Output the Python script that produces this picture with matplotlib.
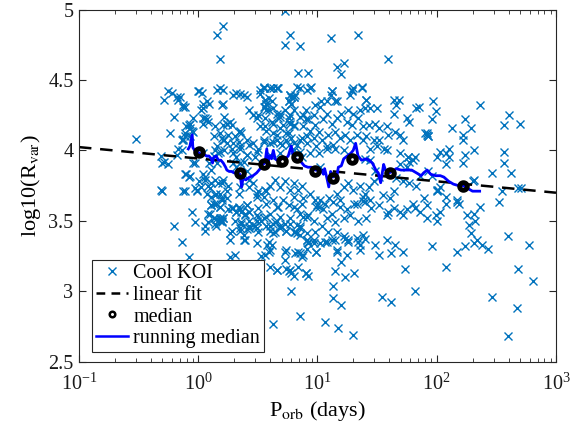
import numpy as np
import matplotlib
matplotlib.use("Agg")
import matplotlib.pyplot as plt
from matplotlib.lines import Line2D

# ---------------- data ----------------
# scatter: log10(P_orb [days]) and log10(R_var)
koi_logP = [
    -0.52, -0.29, -0.25, -0.24, -0.20, -0.18, -0.17, -0.13, -0.11, -0.31, -0.29, -0.18, -0.31, -0.11, -0.11,
    -0.13, -0.08, -0.07, -0.20, -0.14, -0.08, -0.05, -0.03, -0.10, -0.08, -0.22, -0.15, -0.13, -0.13, -0.11,
    -0.10, -0.07, -0.04, -0.05, -0.04, -0.17, -0.14, -0.30, -0.25, -0.04, -0.30, -0.13, -0.01, -0.03, -0.07,
    -0.14, -0.11, -0.07, -0.01, -0.03,
    0.21, 0.16, 0.18, 0.00, 0.03, 0.02, 0.04, 0.07, 0.09, 0.04, 0.07, 0.14, 0.16, 0.18, 0.21, 0.20, 0.21,
    0.24, 0.16, 0.18, 0.22, 0.13, 0.16, 0.04, 0.09, 0.11, 0.04, 0.06, 0.14, 0.17, 0.02, 0.07, 0.11, 0.15,
    0.20, 0.24, 0.15, 0.18, 0.25, 0.01, 0.04, 0.06, 0.08, 0.04, 0.21, 0.22, 0.24, 0.27, 0.28, 0.20, 0.22,
    0.24, 0.25, 0.29, 0.34, 0.35, 0.17, 0.14, 0.13, 0.18, 0.21, 0.28, 0.35, 0.31, 0.01, 0.06, 0.08, 0.11,
    0.10, 0.14, 0.18, 0.20, 0.24, 0.20, 0.21, 0.25, 0.34, 0.35, 0.10, 0.11, 0.13, 0.18, 0.21, 0.20, 0.18,
    0.28, 0.06, 0.27, 0.13, 0.18, 0.27, 0.06, 0.08, 0.13, 0.15, 0.20, 0.14, 0.15, 0.18, 0.21, 0.11, 0.08,
    0.28, 0.32, 0.35, 0.38, 0.36, 0.39, 0.29, 0.32, 0.35, 0.38, 0.41, 0.43, 0.46, 0.49, 0.50, 0.41, 0.43,
    0.46, 0.49, 0.50, 0.34, 0.35, 0.36, 0.41, 0.43, 0.46, 0.49, 0.50, 0.48, 0.41, 0.29, 0.32, 0.29, 0.34,
    0.36, 0.41, 0.43, 0.48, 0.49, 0.49, 0.43, 0.28, 0.32, 0.31, 0.36, 0.41, 0.43, 0.50, 0.48, 0.55, 0.57,
    0.50, 0.43, 0.38, 0.29, 0.32, 0.35, 0.41, 0.43, 0.46, 0.49, 0.50, 0.43, 0.49, 0.38, 0.39, 0.27, 0.31,
    0.35, 0.39, 0.35, 0.35, 0.49, 0.41,
    0.52, 0.55, 0.63, 0.67, 0.59, 0.62, 0.56, 0.57, 0.66, 0.69, 0.52, 0.56, 0.63, 0.76, 0.77, 0.80, 0.78,
    0.81, 0.83, 0.85, 0.91, 0.88, 0.90, 0.76, 0.80, 0.85, 0.55, 0.60, 0.66, 0.56, 0.57, 0.77, 0.80, 0.76,
    0.78, 0.55, 0.59, 0.63, 0.69, 0.73, 0.77, 0.80, 0.56, 0.62, 0.67, 0.71, 0.76, 0.80, 0.57, 0.63, 0.69,
    0.74, 0.78, 0.55, 0.60, 0.66, 0.70, 0.76, 0.80, 0.85, 0.90, 0.92, 0.97, 0.88, 0.94, 0.98, 0.87, 0.91,
    0.97, 0.85, 0.94, 0.69, 0.60, 0.66, 0.69, 0.74, 0.83, 0.91, 0.99, 0.55, 0.63,
    0.56, 0.60, 0.64, 0.69, 0.73, 0.77, 0.80, 0.84, 0.87, 0.57, 0.63, 0.67, 0.71, 0.76, 0.80, 0.83, 0.88,
    0.94, 0.98, 0.55, 0.60, 0.64, 0.69, 0.73, 0.77, 0.83, 0.88, 0.92, 0.97, 0.60, 0.64, 0.69, 0.74, 0.80,
    0.85, 0.91, 0.98, 0.59, 0.62, 0.92, 0.97, 0.74, 0.88, 0.99, 0.56, 0.59, 0.73, 0.73, 0.81, 0.84, 0.87,
    0.66, 0.74, 0.76, 0.80, 0.90, 0.78, 0.85, 0.63, 0.58, 0.60, 0.53, 0.60, 0.66, 0.77, 0.78, 0.84, 0.85,
    0.91, 0.53, 0.57, 0.60, 0.63, 0.66, 0.69, 0.77, 0.81, 0.85, 0.91, 0.92, 0.80, 0.85, 0.91, 0.87, 0.85,
    0.91, 0.97, 0.63, 0.57, 0.66, 0.74, 0.83,
    0.73, 0.77, 0.73, 0.85, 0.84, 0.92, 0.55, 0.60, 0.66, 0.52, 0.56, 0.57, 0.77, 0.80, 0.76, 0.78, 0.87,
    1.11, 1.34, 1.59, 1.16, 1.22, 1.20, 1.12, 1.11, 1.16, 1.29, 1.37, 1.27, 1.41, 0.98, 1.03, 1.08, 1.02,
    1.26, 1.30, 1.36, 1.40, 1.01, 1.05, 1.08, 1.12, 1.16, 1.20, 1.25, 1.29, 1.34, 1.38, 1.04, 1.09, 1.15,
    1.19, 1.23, 1.27, 1.33, 1.38, 1.08, 1.13, 1.22, 1.01, 1.08, 1.15, 0.94, 0.95, 1.12, 1.15, 1.29, 1.30,
    1.37, 1.41, 1.44, 1.50, 1.64, 1.68, 1.66, 1.64, 1.75, 1.83, 1.85, 1.97, 1.99, 1.96, 1.90, 1.93, 1.02,
    1.02, 1.06, 1.10, 1.16, 1.22, 1.26, 1.30, 1.36, 1.40, 0.99, 1.05, 1.12, 1.19, 1.25, 1.31, 1.38, 1.01,
    1.08, 1.15, 1.22, 1.27, 1.34, 1.41, 1.04, 1.09, 1.12, 1.16, 1.22, 1.26, 1.33, 1.38, 1.02, 1.08, 0.99,
    1.16, 1.25, 1.36, 1.00, 1.13, 1.19, 1.33, 1.40,
    1.06, 1.15, 1.16, 1.23, 1.26, 1.34, 1.36, 1.40, 1.48, 1.52, 1.58, 1.62, 1.65, 1.72, 0.90, 0.92, 1.15,
    1.13, 1.13, 1.20, 1.23, 1.31, 1.06, 1.17, 1.20, 1.30, 1.54, 1.62, 1.73, 1.82, 1.96, 2.08, 2.17, 2.24,
    2.31, 2.38, 2.43, 2.46, 2.60, 2.68, 2.67, 2.77, 2.81, 2.60,
    1.59, 1.69, 1.75, 1.82, 1.92, 1.99, 2.03, 2.00, 2.08, 2.17, 2.19, 2.25, 2.27, 2.29, 2.31, 2.32, 2.34,
    2.36, 2.52,
    1.92, 2.13, 2.08, 2.10, 2.08, 2.17, 1.77, 1.69, 1.72, 1.59, 1.52, 1.56, 1.77, 1.75, 1.86, 1.69, 1.93,
    1.96, 2.00, 2.03, 1.89, 1.80, 1.92, 1.86, 1.72, 1.64, 1.61, 1.64, 1.55, 1.52, 1.44, 1.38, 1.45, 1.58,
    1.43, 1.48, 1.52, 1.58, 1.65, 1.41, 1.47, 1.50, 1.44, 1.58, 1.69, 1.76, 1.40, 1.44, 1.48, 1.52, 1.47,
    1.43, 1.66, 1.72, 1.77, 1.83,
    2.08, 2.24, 2.22, 2.31, 2.31, 2.30, 2.46, 2.56, 2.56, 2.62, 2.55, 2.68, 2.71, 2.24, 2.29, 2.22, 2.22,
    2.36, 2.61, 2.56, 2.70, 1.92, 1.93, 2.00, 2.03, 2.01, 2.00, 1.76, 1.82, 1.80, 2.10,
]
koi_logR = [
    4.08, 4.36, 4.42, 4.12, 4.24, 4.38, 4.36, 4.32, 4.31, 3.96, 3.92, 3.97, 3.72, 3.71, 3.83,
    4.07, 4.18, 4.16, 3.46, 3.35, 3.24, 3.56, 3.49, 3.83, 3.81, 4.41, 4.38, 4.31, 4.08, 4.10,
    4.17, 4.19, 4.23, 4.14, 4.13, 4.01, 4.00, 3.91, 3.90, 3.91, 3.71, 3.71, 3.72, 3.73, 3.82,
    4.07, 4.12, 4.10, 3.71, 3.91,
    4.88, 4.82, 4.65, 4.42, 4.41, 4.29, 4.30, 4.35, 4.33, 4.23, 4.22, 4.17, 4.43, 4.44, 4.43, 4.32, 4.18,
    4.19, 4.03, 3.99, 4.00, 3.96, 3.91, 3.98, 3.91, 3.86, 3.83, 3.79, 3.79, 3.77, 3.74, 3.69, 3.67, 3.69,
    3.65, 3.66, 3.62, 3.60, 3.58, 4.42, 4.33, 4.23, 4.20, 4.19, 4.33, 4.24, 4.19, 4.20, 4.18, 4.09, 4.07,
    4.05, 4.11, 4.05, 4.06, 4.01, 3.98, 4.00, 4.10, 4.12, 4.07, 4.01, 4.03, 4.10, 3.78, 3.81, 3.75, 3.77,
    3.73, 3.68, 3.69, 3.66, 3.71, 3.77, 3.79, 3.75, 3.69, 3.74, 3.55, 3.61, 3.62, 3.60, 3.52, 3.49, 3.50,
    3.43, 3.46, 3.24, 3.52, 3.52, 3.41, 3.43, 3.49, 3.52, 3.46, 3.50, 3.48, 3.51, 3.51, 3.52, 3.61, 3.55,
    3.59, 3.56, 3.58, 3.36, 3.49, 3.54, 4.39, 4.41, 4.40, 4.39, 4.38, 4.29, 4.25, 4.23, 4.25, 4.07, 4.04,
    4.05, 3.99, 4.01, 4.13, 4.14, 4.12, 3.97, 3.45, 3.47, 3.54, 3.59, 3.95, 3.97, 3.98, 3.95, 3.59, 3.60,
    3.56, 3.61, 3.56, 3.46, 3.69, 3.67, 3.50, 3.59, 3.56, 3.50, 3.48, 3.61, 3.56, 3.53, 3.46, 3.67, 3.71,
    3.71, 3.74, 3.92, 3.91, 3.88, 3.91, 3.85, 3.79, 3.77, 3.45, 3.42, 3.46, 3.34, 3.40, 3.36, 3.36, 3.26,
    3.58, 3.55, 3.43, 3.45, 3.50, 3.44,
    4.43, 4.45, 4.44, 4.44, 4.37, 4.35, 4.31, 4.29, 4.26, 4.24, 4.17, 4.17, 4.19, 4.23, 4.19, 4.18, 4.38,
    4.39, 4.45, 4.44, 4.43, 4.25, 4.22, 4.12, 4.05, 4.07, 4.44, 4.44, 4.44, 4.36, 4.33, 4.39, 4.38, 4.35,
    4.33, 4.31, 4.29, 4.30, 4.26, 4.29, 4.25, 4.29, 4.23, 4.20, 4.23, 4.18, 4.20, 4.17, 4.14, 4.12, 4.16,
    4.12, 4.09, 4.07, 4.05, 4.07, 4.04, 4.04, 4.00, 4.24, 4.29, 4.22, 4.25, 4.17, 4.14, 4.18, 4.09, 4.05,
    4.09, 3.99, 3.98, 3.98, 3.97, 4.11, 4.05, 4.07, 4.04, 4.10, 4.03, 4.06, 4.06,
    3.72, 3.75, 3.79, 3.74, 3.78, 3.72, 3.77, 3.72, 3.75, 3.62, 3.65, 3.60, 3.65, 3.61, 3.67, 3.58, 3.66,
    3.69, 3.65, 3.52, 3.55, 3.49, 3.53, 3.48, 3.52, 3.47, 3.53, 3.54, 3.50, 3.43, 3.42, 3.46, 3.43, 3.42,
    3.45, 3.41, 3.42, 3.35, 3.33, 3.35, 3.36, 3.29, 3.26, 3.28, 3.26, 3.28, 3.28, 3.22, 3.27, 3.28, 3.24,
    3.15, 3.16, 3.14, 3.11, 3.13, 3.00, 2.82, 2.77, 3.33, 3.29, 3.25, 3.17, 3.15, 3.15, 3.13, 3.17, 3.27,
    3.30, 3.50, 3.53, 3.46, 3.48, 3.50, 3.45, 3.48, 3.42, 3.46, 3.36, 3.34, 3.60, 3.55, 3.53, 3.62, 3.40,
    3.36, 3.34, 3.41, 3.46, 3.60, 3.43, 3.41,
    4.99, 4.82, 4.75, 4.74, 4.55, 4.55, 4.44, 4.44, 4.44, 4.40, 4.36, 4.33, 4.39, 4.38, 4.35, 4.33, 3.95,
    4.80, 4.82, 4.65, 4.59, 4.62, 4.54, 4.42, 4.39, 4.35, 4.42, 4.44, 4.39, 4.36, 4.32, 4.35, 4.35, 4.31,
    4.29, 4.26, 4.29, 4.30, 4.13, 4.22, 4.26, 4.19, 4.23, 4.26, 4.20, 4.18, 4.23, 4.17, 4.07, 4.11, 4.13,
    4.09, 4.11, 4.07, 4.11, 4.07, 4.01, 4.04, 4.00, 3.98, 4.03, 4.01, 4.44, 4.45, 4.42, 4.35, 4.43, 4.44,
    4.45, 4.36, 4.30, 4.30, 4.36, 4.36, 4.32, 4.26, 4.23, 4.30, 4.31, 4.35, 4.28, 4.22, 4.12, 4.10, 3.88,
    3.65, 3.62, 3.66, 3.69, 3.74, 3.77, 3.72, 3.75, 3.69, 3.60, 3.58, 3.55, 3.60, 3.58, 3.62, 3.64, 3.60,
    3.52, 3.49, 3.52, 3.54, 3.50, 3.52, 3.46, 3.42, 3.36, 3.42, 3.39, 3.36, 3.38, 3.40, 3.34, 3.35, 3.28,
    3.29, 3.26, 3.29, 3.61, 3.63, 3.65, 3.62, 3.63,
    3.35, 3.36, 3.28, 3.37, 3.35, 3.35, 3.33, 3.37, 3.33, 3.26, 3.36, 3.27, 3.33, 3.28, 3.13, 3.11, 3.14,
    3.04, 2.95, 3.21, 3.10, 3.13, 2.78, 2.74, 2.90, 2.69, 2.96, 2.92, 3.16, 3.00, 3.32, 3.17, 3.28, 3.32,
    3.34, 3.33, 3.30, 2.96, 3.39, 3.16, 2.88, 3.33, 3.07, 2.68,
    3.56, 3.56, 3.58, 3.59, 3.52, 3.54, 3.56, 3.50, 3.62, 3.63, 3.62, 3.54, 3.47, 3.41, 3.55, 3.50, 3.36,
    3.60, 3.63,
    4.11, 4.16, 3.98, 3.95, 3.67, 3.65, 4.20, 4.11, 4.07, 4.11, 4.07, 4.01, 3.92, 3.88, 3.82, 3.90, 3.85,
    3.82, 3.72, 3.74, 3.66, 3.62, 3.61, 3.56, 3.54, 3.59, 3.66, 3.71, 3.68, 3.61, 3.65, 3.67, 3.59, 3.54,
    4.18, 4.19, 4.16, 4.17, 4.13, 4.10, 4.07, 4.03, 4.01, 4.00, 3.98, 3.95, 3.94, 3.93, 3.85, 3.81, 3.78,
    3.74, 3.80, 3.78, 3.77, 3.75,
    3.90, 3.97, 3.91, 4.00, 3.79, 3.78, 3.84, 3.99, 3.91, 3.84, 3.71, 3.73, 3.73, 4.22, 4.16, 4.11, 4.07,
    4.32, 4.25, 4.18, 4.19, 4.12, 4.10, 3.95, 3.99, 3.72, 3.71, 3.95, 3.95, 3.93, 4.01,
]

# binned medians
med_logP = [0.009, 0.35, 0.554, 0.70, 0.825, 0.979, 1.133, 1.287, 1.608, 2.223]
med_logR = [3.986, 3.837, 3.903, 3.924, 3.955, 3.853, 3.801, 3.936, 3.841, 3.746]

# linear fit: log10(R_var) = fit_a + fit_b * log10(P)
fit_a = 3.942
fit_b = -0.081

# running median trace
rm_logP = [-0.083, -0.07, -0.05, -0.045, -0.03, -0.01, 0.01, 0.03, 0.05, 0.07, 0.09, 0.11, 0.12, 0.13,
           0.15, 0.17, 0.19, 0.21, 0.23, 0.24, 0.26, 0.28, 0.30, 0.33, 0.35, 0.365, 0.375, 0.40, 0.43,
           0.46, 0.49, 0.52, 0.54, 0.56, 0.575, 0.585, 0.60, 0.615, 0.63, 0.645, 0.66, 0.685, 0.71, 0.73,
           0.755, 0.78, 0.80, 0.83, 0.86, 0.89, 0.92, 0.95, 0.98, 1.00, 1.03, 1.05, 1.06, 1.08, 1.095,
           1.11, 1.13, 1.15, 1.16, 1.175, 1.20, 1.22, 1.25, 1.28, 1.30, 1.32, 1.34, 1.37, 1.41, 1.43,
           1.46, 1.49, 1.51, 1.53, 1.555, 1.57, 1.60, 1.63, 1.66, 1.70, 1.74, 1.79, 1.83, 1.87, 1.89,
           1.92, 1.95, 1.99, 2.03, 2.06, 2.10, 2.14, 2.18, 2.22, 2.26, 2.30, 2.33, 2.36]
rm_logR = [4.01, 4.03, 4.11, 4.02, 4.00, 3.99, 3.98, 3.97, 3.97, 3.96, 3.96, 3.94, 3.91, 3.95,
           3.96, 3.93, 3.93, 3.91, 3.88, 3.86, 3.85, 3.85, 3.84, 3.84, 3.83, 3.74, 3.80, 3.79, 3.81,
           3.82, 3.84, 3.87, 3.90, 3.91, 4.01, 3.92, 3.96, 3.94, 4.00, 3.94, 3.93, 3.93, 3.95, 3.94,
           3.96, 4.03, 3.95, 3.93, 3.92, 3.89, 3.88, 3.88, 3.86, 3.86, 3.86, 3.83, 3.87, 3.80, 3.74,
           3.85, 3.81, 3.83, 3.80, 3.88, 3.89, 3.94, 3.96, 3.98, 4.00, 4.05, 3.96, 3.93, 3.94, 3.93,
           3.91, 3.86, 3.84, 3.77, 3.90, 3.86, 3.84, 3.85, 3.87, 3.86, 3.86, 3.86, 3.84, 3.82, 3.84,
           3.86, 3.83, 3.82, 3.82, 3.81, 3.78, 3.76, 3.75, 3.75, 3.73, 3.71, 3.71, 3.71]

x_ticks = [0.1, 1, 10, 100, 1000]
y_ticks = [2.5, 3, 3.5, 4, 4.5, 5]
y_ticklabels = ["2.5", "3", "3.5", "4", "4.5", "5"]

# ---------------- plot ----------------
plt.rcParams["font.family"] = ["Liberation Serif", "DejaVu Serif"]
plt.rcParams["mathtext.fontset"] = "stix"
text_col = "#262626"

fig = plt.figure(figsize=(5.72, 4.33), dpi=100)
ax = fig.add_axes([0.138, 0.165, 0.834, 0.813])

n = min(len(koi_logP), len(koi_logR))
P = 10 ** np.array(koi_logP[:n])
R = np.array(koi_logR[:n])
koi_col = "#0072BD"
ax.plot(P, R, linestyle="none", marker="x", color=koi_col, markersize=5.5, markeredgewidth=1.0)

xf = np.array([0.1, 1000.0])
ax.plot(xf, fit_a + fit_b * np.log10(xf), color="k", linestyle=(0, (5, 3.5)), linewidth=1.8)

ax.plot(10 ** np.array(rm_logP), rm_logR, color="#0000FF", linewidth=2.0)

ax.plot(10 ** np.array(med_logP), med_logR, linestyle="none", marker="o", markersize=5.5,
        markerfacecolor="none", markeredgecolor="k", markeredgewidth=3.5)

ax.set_xscale("log")
ax.set_xlim(0.1, 1000)
ax.set_ylim(2.5, 5)
ax.set_xticks(x_ticks)
ax.set_yticks(y_ticks)
ax.set_yticklabels(y_ticklabels)
ax.tick_params(which="both", direction="in", top=True, right=True, colors=text_col,
               labelsize=14.5, labelcolor="#1a1a1a")
ax.tick_params(which="major", length=5, width=0.8)
ax.tick_params(which="minor", length=2.8, width=0.6)
ax.tick_params(axis="x", pad=9)
ax.tick_params(axis="y", pad=4)
for s in ax.spines.values():
    s.set_color(text_col)
    s.set_linewidth(0.8)

ax.set_xlabel(r"P$_{\mathrm{orb}}$ (days)", fontsize=16, labelpad=3)
ax.set_ylabel(r"log10(R$_{\mathrm{var}}$)", fontsize=16, labelpad=4)

handles = [
    Line2D([], [], linestyle="none", marker="x", color=koi_col, markersize=5.5, markeredgewidth=1.0),
    Line2D([], [], color="k", linestyle=(0, (3.5, 2.5)), linewidth=1.8),
    Line2D([], [], linestyle="none", marker="o", markersize=4, markerfacecolor="none",
           markeredgecolor="k", markeredgewidth=1.8),
    Line2D([], [], color="#0000FF", linewidth=1.8),
]
labels = ["Cool KOI", "linear fit", "median", "running median"]
leg = ax.legend(handles, labels, loc="lower left", bbox_to_anchor=(0.027, 0.027),
                borderaxespad=0, fontsize=14.5, frameon=True, fancybox=False, framealpha=1,
                edgecolor=text_col, handlelength=1.6, handletextpad=0.25, borderpad=0.2,
                labelspacing=0.12)
leg.get_frame().set_linewidth(0.8)

fig.savefig("out.png", dpi=100)
